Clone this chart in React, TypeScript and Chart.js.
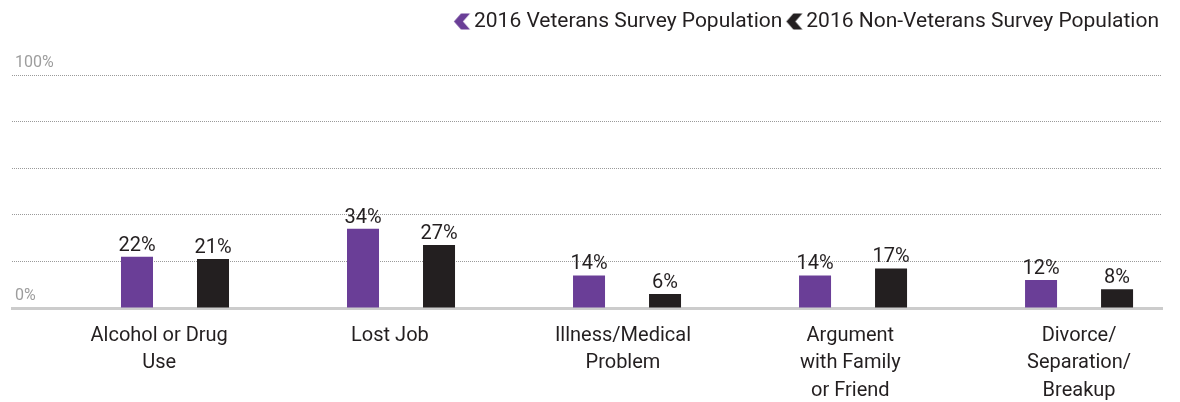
import React, { useEffect, useRef } from 'react';
import { Chart, registerables } from 'chart.js';

Chart.register(...registerables);

// ---- Data ----
const categories: string[][] = [
  ['Alcohol or Drug', 'Use'],
  ['Lost Job'],
  ['Illness/Medical', 'Problem'],
  ['Argument', 'with Family', 'or Friend'],
  ['Divorce/', 'Separation/', 'Breakup'],
];
const veterans: number[] = [22, 34, 14, 14, 12];
const nonVeterans: number[] = [21, 27, 6, 17, 8];
const seriesNames: string[] = ['2016 Veterans Survey Population', '2016 Non-Veterans Survey Population'];
const yTickValues: number[] = [0, 100];
// small horizontal nudge of each category label (in category units), as in the original layout
const labelNudge: number[] = [-0.07, -0.049, -0.018, -0.012, 0];

const PURPLE = '#6a3e97';
const DARK = '#231f20';

// chevron marker; drawn in the right part of a wider transparent image
function makeChevron(color: string): HTMLCanvasElement {
  const c = document.createElement('canvas');
  c.width = 26;
  c.height = 17;
  const g = c.getContext('2d')!;
  g.fillStyle = color;
  const o = 8.75;
  g.beginPath();
  g.moveTo(o + 0, 8.5);
  g.lineTo(o + 7, 0.5);
  g.lineTo(o + 16, 0.5);
  g.lineTo(o + 9, 8.5);
  g.lineTo(o + 16, 16.5);
  g.lineTo(o + 7, 16.5);
  g.closePath();
  g.fill();
  return c;
}

const valueLabels = {
  id: 'valueLabels',
  afterDatasetsDraw(chart: any) {
    const ctx = chart.ctx;
    ctx.save();
    ctx.font = '20px Roboto';
    ctx.fillStyle = DARK;
    ctx.textAlign = 'center';
    ctx.textBaseline = 'alphabetic';
    chart.data.datasets.forEach((ds: any, di: number) => {
      const meta = chart.getDatasetMeta(di);
      meta.data.forEach((bar: any, i: number) => {
        const v = ds.data[i].y;
        ctx.fillText(v + '%', bar.x, bar.y - 6);
      });
    });
    ctx.restore();
  },
};

// reserve vertical room under the legend so the plot starts lower
const legendHeight = {
  id: 'legendHeight',
  beforeLayout(chart: any) {
    const lg = chart.legend;
    if (lg && !lg.__patched) {
      const orig = lg.fit.bind(lg);
      lg.fit = function () {
        orig();
        this.height = 67;
      };
      lg.__patched = true;
    }
  },
};

export default function App() {
  const ref = useRef<HTMLCanvasElement | null>(null);

  useEffect(() => {
    document.body.style.margin = '0';
    const chevrons = [makeChevron(PURPLE), makeChevron(DARK)];
    const chart = new Chart(ref.current!, {
      type: 'bar',
      data: {
        datasets: [
          {
            label: seriesNames[0],
            data: veterans.map((v, i) => ({ x: i, y: v })),
            backgroundColor: PURPLE,
            categoryPercentage: 0.6726,
            barPercentage: 0.4211,
          },
          {
            label: seriesNames[1],
            data: nonVeterans.map((v, i) => ({ x: i, y: v })),
            backgroundColor: DARK,
            categoryPercentage: 0.6726,
            barPercentage: 0.4211,
          },
        ],
      },
      options: {
        responsive: false,
        animation: false,
        layout: { padding: { left: 12, right: 18, top: 8, bottom: 0 } },
        plugins: {
          tooltip: { enabled: false },
          legend: {
            display: true,
            position: 'top',
            align: 'end',
            labels: {
              usePointStyle: true,
              pointStyleWidth: 10.5,
              padding: 3,
              color: DARK,
              font: { family: 'Roboto', size: 21 },
              generateLabels: (ch: any) => {
                const items = Chart.defaults.plugins.legend.labels.generateLabels(ch);
                return items.map((it: any, i: number) => ({ ...it, pointStyle: chevrons[i] }));
              },
            },
          },
        },
        scales: {
          x: {
            type: 'linear',
            bounds: 'data',
            offset: false,
            min: -0.7212,
            max: 4.367,
            grid: { display: false, drawTicks: false },
            border: { display: true, color: '#cccccc', width: 3 },
            afterBuildTicks: (s: any) => {
              s.ticks = categories.map((_, i) => ({ value: i + labelNudge[i] }));
            },
            afterFit: (s: any) => {
              s.height = 94;
              s.paddingLeft = 0;
              s.paddingRight = 0;
            },
            ticks: {
              autoSkip: false,
              maxRotation: 0,
              padding: 14,
              color: DARK,
              font: { family: 'Roboto', size: 20, lineHeight: 1.375 },
              callback: (_v: any, index: number) => categories[index] || '',
            },
          },
          y: {
            min: 0,
            max: 100,
            grid: {
              drawTicks: false,
              color: (c: any) => (c.tick && c.tick.value === 0 ? 'rgba(0,0,0,0)' : '#9a9a9a'),
              lineWidth: 1,
            },
            border: { display: false, dash: [1, 1] },
            afterFit: (s: any) => {
              s.width = 0;
            },
            ticks: {
              stepSize: 20,
              mirror: true,
              padding: 3,
              labelOffset: -12,
              color: '#9d9d9d',
              font: { family: 'Roboto', size: 16 },
              callback: (v: any) => (yTickValues.includes(Number(v)) ? v + '%' : ''),
            },
          },
        },
      },
      plugins: [valueLabels, legendHeight],
    } as any);
    return () => chart.destroy();
  }, []);

  return (
    <div style={{ position: 'absolute', left: 0, top: 0, width: 1180, height: 402, background: '#fff' }}>
      <canvas ref={ref} width={1180} height={402} />
    </div>
  );
}
